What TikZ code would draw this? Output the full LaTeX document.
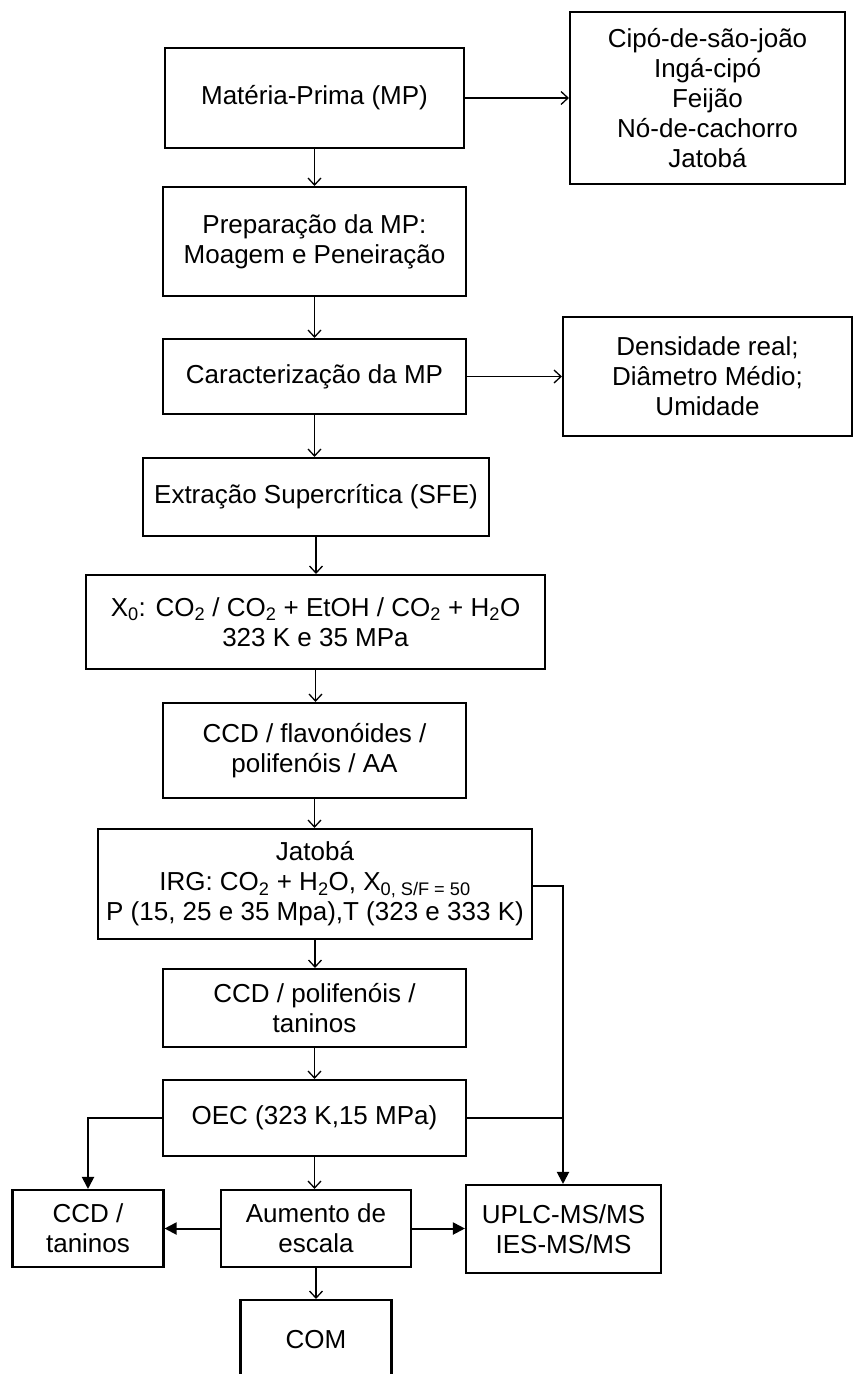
\documentclass[tikz,border=0pt]{standalone}
\usepackage{fontspec}
\setmainfont{Liberation Sans}
\usetikzlibrary{arrows.meta}
\begin{document}
\begin{tikzpicture}[x=1pt,y=-1pt,
  box/.style={draw, line width=2.1pt, align=center, inner sep=0pt, font=\fontsize{26}{30}\selectfont},
  conn/.style={line width=1.7pt},
  openarr/.style={conn, -{Straight Barb[length=7pt,width=13pt,line width=1.3pt]}},
  fillarr/.style={conn, line width=2pt, -{Triangle[length=12pt,width=12pt]}}]
\useasboundingbox (0,0) rectangle (854,1374);
\fill[white] (0,0) rectangle (854,1374);
\begin{scope}
\clip (0,0) rectangle (854,1374);
% nodes
\node[box, minimum width=299pt, minimum height=100pt] (mp) at (314.5,98) {Matéria-Prima (MP)};
\node[box, minimum width=275pt, minimum height=172pt] (cipo) at (707.5,98) {Cipó-de-são-joão\\Ingá-cipó\\Feijão\\Nó-de-cachorro\\Jatobá};
\node[box, minimum width=303pt, minimum height=109pt] (prep) at (314.5,241.5) {Preparação da MP:\\Moagem e Peneiração};
\node[box, minimum width=303pt, minimum height=75pt] (car) at (314.5,376.5) {Caracterização da MP};
\node[box, minimum width=289pt, minimum height=119pt] (dens) at (707.5,376.5) {Densidade real;\\Diâmetro Médio;\\Umidade};
\node[box, minimum width=346pt, minimum height=78pt] (sfe) at (316,497) {Extração Supercrítica (SFE)};
\node[box, minimum width=459pt, minimum height=94pt] (xz) at (315.5,622) {X\textsubscript{0}: CO\textsubscript{2} / CO\textsubscript{2} + EtOH / CO\textsubscript{2} + H\textsubscript{2}O\\323 K e 35 MPa};
\node[box, minimum width=303pt, minimum height=95pt] (ccda) at (314.5,750.5) {CCD / flavonóides /\\polifenóis / AA};
\node[box, minimum width=434pt, minimum height=110pt] (jat) at (315,884) {Jatobá\\IRG: CO\textsubscript{2} + H\textsubscript{2}O, X\textsubscript{0, S/F = 50}\\P (15, 25 e 35 Mpa),T (323 e 333 K)};
\node[box, minimum width=303pt, minimum height=78pt] (ccdb) at (314.5,1008) {CCD / polifenóis /\\taninos};
\node[box, minimum width=303pt, minimum height=76pt] (oec) at (314.5,1118) {OEC (323 K,15 MPa)};
\node[box, minimum width=151pt, minimum height=77pt] (ccdt) at (88,1228.5) {CCD /\\taninos};
\node[box, minimum width=190pt, minimum height=77pt] (aum) at (316,1228.5) {Aumento de\\escala};
\node[box, minimum width=195pt, minimum height=88pt] (uplc) at (563.5,1229) {UPLC-MS/MS\\IES-MS/MS};
\node[box, minimum width=151pt, minimum height=80pt] (com) at (316,1340) {COM};
\end{scope}
% connectors
\draw[openarr] (mp.east) -- (cipo.west |- mp.east);
\draw[openarr] (car.east) -- (dens.west |- car.east);
\draw[openarr] (mp.south) -- (mp.south |- prep.north);
\draw[openarr] (prep.south) -- (prep.south |- car.north);
\draw[openarr] (car.south) -- (car.south |- sfe.north);
\draw[openarr] (sfe.south) -- (sfe.south |- xz.north);
\draw[openarr] (xz.south) -- (xz.south |- ccda.north);
\draw[openarr] (ccda.south) -- (ccda.south |- jat.north);
\draw[openarr] (jat.south) -- (jat.south |- ccdb.north);
\draw[openarr] (ccdb.south) -- (ccdb.south |- oec.north);
\draw[openarr] (oec.south) -- (oec.south |- aum.north);
\draw[openarr] (aum.south) -- (aum.south |- com.north);
\coordinate (j) at (563,886);
\draw[fillarr] (jat.east |- j) -- (j) -- (j |- uplc.north);
\draw[conn] (oec.east) -- (oec.east -| j);
\draw[fillarr] (oec.west) -| (ccdt.north);
\draw[fillarr] (aum.west) -- (ccdt.east |- aum.west);
\draw[fillarr] (aum.east) -- (uplc.west |- aum.east);
\end{tikzpicture}
\end{document}
